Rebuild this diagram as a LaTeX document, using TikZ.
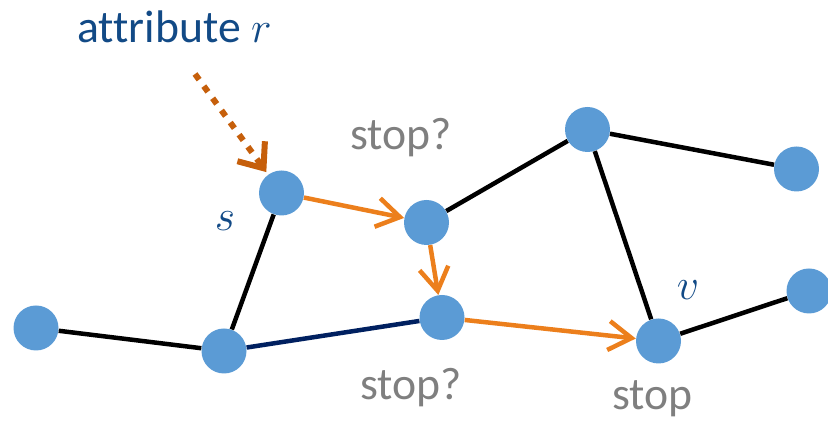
\documentclass[tikz,border=0pt]{standalone}
\usepackage{fontspec}
\setmainfont{Carlito}[Ligatures=NoCommon]
\usetikzlibrary{arrows.meta}

\definecolor{nodeblue}{HTML}{5B9BD5}
\definecolor{walkorange}{HTML}{EC7F1C}
\definecolor{attrorange}{HTML}{C65F0B}
\definecolor{labelblue}{HTML}{124A86}
\definecolor{navyedge}{HTML}{002060}
\definecolor{stopgray}{HTML}{7F7F7F}

\begin{document}
\begin{tikzpicture}[
    vertex/.style={circle,fill=nodeblue,inner sep=0pt,minimum size=0.9cm},
    edge/.style={line width=0.09cm,black},
    walk/.style={line width=0.09cm,walkorange,-{Straight Barb[length=0.46cm,width=0.58cm]}},
    lbl/.style={anchor=base,font=\fontsize{26}{30}\selectfont}
]
    \useasboundingbox (0,0) rectangle (16.56,8.44);

    % Vertici
    \node[vertex] (l)  at (0.72,1.88)  {};
    \node[vertex] (a)  at (4.48,1.42)  {};
    \node[vertex] (s)  at (5.63,4.58)  {};
    \node[vertex] (m1) at (8.53,3.99)  {};
    \node[vertex] (m2) at (8.84,2.09)  {};
    \node[vertex] (t)  at (11.75,5.85) {};
    \node[vertex] (rt) at (15.93,5.06) {};
    \node[vertex] (v)  at (13.17,1.62) {};
    \node[vertex] (rb) at (16.18,2.62) {};

    % Archi
    \foreach \u/\w in {l/a,a/s,m1/t,t/rt,t/v,v/rb} {
        \draw[edge] (\u) -- (\w);
    }
    \draw[edge,navyedge] (a) -- (m2);

    % Cammino
    \draw[walk] (s) -- (m1);
    \draw[walk] (m1) -- (m2);
    \draw[walk] (m2) -- (v);

    % Attributo
    \coordinate (rsrc) at (3.90,6.96);
    \draw[line width=0.12cm,attrorange,dash pattern=on 0.14cm off 0.16cm,
          shorten >=0.06cm,-{Straight Barb[length=0.42cm,width=0.68cm]}] (rsrc) -- (s);
    \node[lbl,labelblue] (attr) at (3.49,7.58) {attribute {\fontsize{28}{30}\selectfont$r$}};

    % Etichette
    \node[lbl,labelblue,font=\fontsize{29}{30}\selectfont] (slbl) at (4.50,3.82) {$s$};
    \node[lbl,labelblue,font=\fontsize{29}{30}\selectfont] (vlbl) at (13.76,2.44) {$v$};
    \node[lbl,stopgray] (stop1) at (8.02,5.44) {stop?};
    \node[lbl,stopgray] (stop2) at (8.22,0.44) {stop?};
    \node[lbl,stopgray] (stop3) at (13.05,0.24) {stop};

\end{tikzpicture}
\end{document}
